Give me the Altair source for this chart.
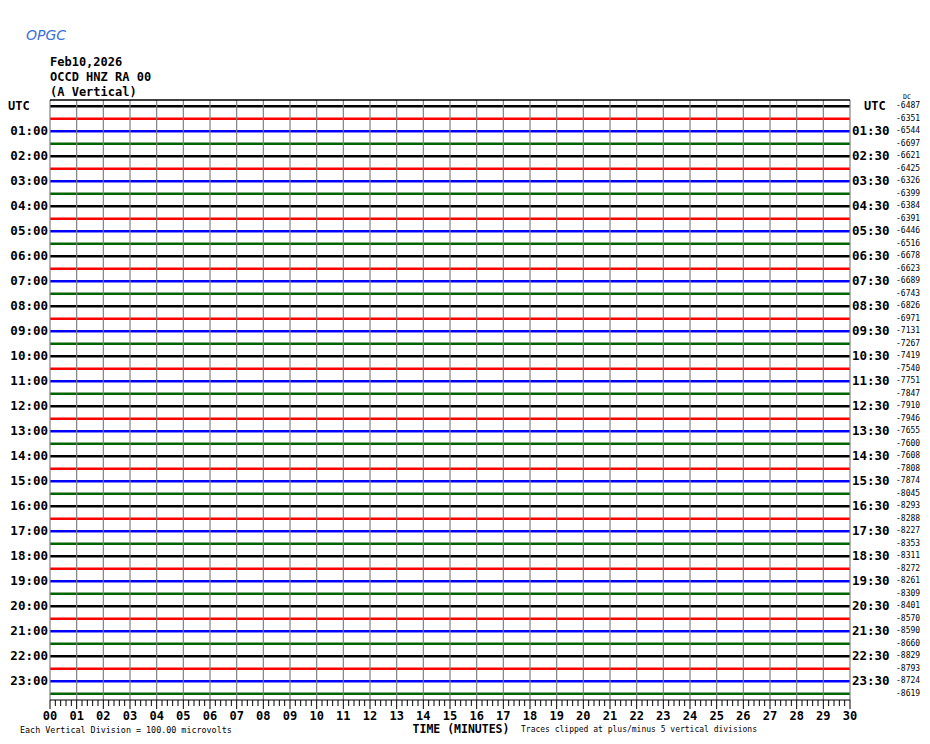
import altair as alt
import pandas as pd

# ---------------- data ----------------
TITLE_LINES = ["Feb10,2026", "OCCD HNZ RA 00", "(A Vertical)"]
TRACE_COLORS = ["#000000", "#ff0000", "#0000ff", "#006400"]  # cycle black, red, blue, green

DC_OFFSETS = [
    -6487, -6351, -6544, -6697, -6621, -6425, -6326, -6399,
    -6384, -6391, -6446, -6516, -6678, -6623, -6689, -6743,
    -6826, -6971, -7131, -7267, -7419, -7540, -7751, -7847,
    -7910, -7946, -7655, -7600, -7608, -7808, -7874, -8045,
    -8293, -8288, -8227, -8353, -8311, -8272, -8261, -8309,
    -8401, -8570, -8590, -8660, -8829, -8793, -8724, -8619,
]

LEFT_LABELS = ["UTC", "01:00", "02:00", "03:00", "04:00", "05:00", "06:00", "07:00",
               "08:00", "09:00", "10:00", "11:00", "12:00", "13:00", "14:00", "15:00",
               "16:00", "17:00", "18:00", "19:00", "20:00", "21:00", "22:00", "23:00"]
RIGHT_LABELS = ["UTC", "01:30", "02:30", "03:30", "04:30", "05:30", "06:30", "07:30",
                "08:30", "09:30", "10:30", "11:30", "12:30", "13:30", "14:30", "15:30",
                "16:30", "17:30", "18:30", "19:30", "20:30", "21:30", "22:30", "23:30"]

MINUTE_LABELS = ["00", "01", "02", "03", "04", "05", "06", "07", "08", "09", "10",
                 "11", "12", "13", "14", "15", "16", "17", "18", "19", "20",
                 "21", "22", "23", "24", "25", "26", "27", "28", "29", "30"]
MINOR_STEPS = [0.2, 0.4, 0.6, 0.8]

TRACE_START_MIN = 0
TRACE_END_MIN = 30

FOOT_LEFT = "Each Vertical Division =  100.00 microvolts"
FOOT_RIGHT = "Traces clipped at plus/minus 5 vertical divisions"
X_TITLE = "TIME (MINUTES)"

# ---------------- tables ----------------
n = len(DC_OFFSETS)
traces = pd.DataFrame({
    "row": [i + 0.5 for i in range(n)],
    "start": [TRACE_START_MIN] * n,
    "end": [TRACE_END_MIN] * n,
    "color": [TRACE_COLORS[i % 4] for i in range(n)],
    "dc": [str(v) for v in DC_OFFSETS],
})
hour_rows = pd.DataFrame({
    "row": [2 * k + 0.5 for k in range(len(LEFT_LABELS))],
    "left": LEFT_LABELS,
    "right": RIGHT_LABELS,
})
minutes = pd.DataFrame({"m": [int(s) for s in MINUTE_LABELS], "lab": MINUTE_LABELS})
minor = pd.DataFrame({"m": [int(s) + f for s in MINUTE_LABELS[:-1] for f in MINOR_STEPS]})

W, H = 800, 600
FONT = "DejaVu Sans Mono"

xs = alt.Scale(domain=[0, 30], nice=False, zero=False)
ys = alt.Scale(domain=[0, n], reverse=True, nice=False, zero=False)
X = lambda f: alt.X(f, scale=xs, axis=None)
Y = lambda f: alt.Y(f, scale=ys, axis=None)


def label(text, x, y, size, align="left", weight="normal", color="#000", font=FONT, style="normal"):
    return alt.Chart(pd.DataFrame({"t": [text]})).mark_text(
        font=font, fontSize=size, fontWeight=weight, fontStyle=style,
        baseline="middle", align=align, color=color
    ).encode(x=alt.value(x), y=alt.value(y), text="t:N")


trace_layer = alt.Chart(traces).mark_rule(strokeWidth=2.4).encode(
    x=X("start:Q"), x2="end:Q", y=Y("row:Q"), color=alt.Color("color:N", scale=None)
)

grid = alt.Chart(minutes).mark_rule(color="#808080", strokeWidth=1.2).encode(
    x=X("m:Q"), y=alt.value(0), y2=alt.value(H)
)
top_border = alt.Chart(minutes.head(1)).mark_rule(color="#000000", strokeWidth=1.5).encode(
    x=alt.value(0), x2=alt.value(W), y=alt.value(0)
)
bottom_axis = alt.Chart(minutes.head(1)).mark_rule(color="#000000", strokeWidth=1).encode(
    x=alt.value(0), x2=alt.value(W), y=alt.value(H)
)
major_ticks = alt.Chart(minutes).mark_rule(color="#000000", strokeWidth=1).encode(
    x=X("m:Q"), y=alt.value(H), y2=alt.value(H + 9)
)
minor_ticks = alt.Chart(minor).mark_rule(color="#000000", strokeWidth=1).encode(
    x=X("m:Q"), y=alt.value(H), y2=alt.value(H + 6)
)
minute_text = alt.Chart(minutes).mark_text(
    font=FONT, fontSize=12, fontWeight="bold", baseline="middle", align="center", color="#000"
).encode(x=X("m:Q"), y=alt.value(H + 16), text="lab:N")

left_text = alt.Chart(hour_rows.iloc[1:]).mark_text(
    font=FONT, fontSize=12.5, fontWeight="bold", baseline="middle", align="right", color="#000"
).encode(x=alt.value(-2), y=Y("row:Q"), text="left:N")
left_utc = alt.Chart(hour_rows.head(1)).mark_text(
    font=FONT, fontSize=12, fontWeight="bold", baseline="middle", align="left", color="#000"
).encode(x=alt.value(-42), y=Y("row:Q"), text="left:N")
right_text = alt.Chart(hour_rows.iloc[1:]).mark_text(
    font=FONT, fontSize=12.5, fontWeight="bold", baseline="middle", align="left", color="#000"
).encode(x=alt.value(802), y=Y("row:Q"), text="right:N")
right_utc = alt.Chart(hour_rows.head(1)).mark_text(
    font=FONT, fontSize=12, fontWeight="bold", baseline="middle", align="left", color="#000"
).encode(x=alt.value(814), y=Y("row:Q"), text="right:N")
dc_text = alt.Chart(traces).mark_text(
    font=FONT, fontSize=8, baseline="middle", align="left", color="#000"
).encode(x=alt.value(846), y=Y("row:Q"), text="dc:N")
dc_head = label("DC", 853, -3, 6.5)

titles = [label(t, 0, -38 + 15 * k, 12, weight="bold") for k, t in enumerate(TITLE_LINES)]

logo = label("OPGC", -24, -64, 14, color="#3a6fd8", font="DejaVu Sans", style="italic")

foot_left = label(FOOT_LEFT, -30, H + 30, 8.4)
foot_right = label(FOOT_RIGHT, 471, H + 30, 8)
x_title = label(X_TITLE, 411, H + 29.5, 11.5, align="center", weight="bold")

chart = alt.layer(
    trace_layer, grid, top_border, bottom_axis, major_ticks, minor_ticks, minute_text,
    left_text, left_utc, right_text, right_utc, dc_text, dc_head, *titles, logo,
    foot_left, foot_right, x_title,
).properties(
    width=W, height=H,
    autosize=alt.AutoSizeParams(type="none"),
    padding={"left": 42, "top": 92, "right": 72, "bottom": 36},
    background="#ffffff",
).configure_view(stroke=None)

chart.save("out.html", embed_options={"renderer": "svg", "actions": False})
